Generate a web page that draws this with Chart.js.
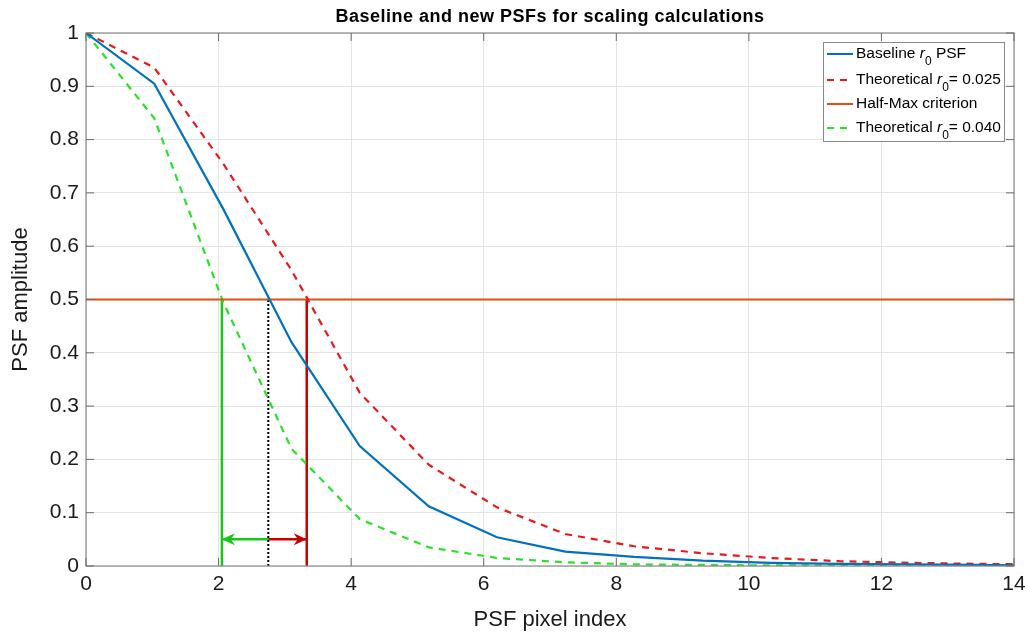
<!DOCTYPE html>
<html>
<head>
<meta charset="utf-8">
<script src="https://cdn.jsdelivr.net/npm/chart.js@4.4.1/dist/chart.umd.min.js"></script>
<style>
  html, body { margin: 0; padding: 0; background: #fff; }
  #wrap { position: relative; width: 1025px; height: 633px; }
</style>
</head>
<body>
<div id="wrap"><canvas id="psfChart"></canvas></div>
<script>
// --- data ---
const psfIndex     = [0, 1.03, 2.07, 3.10, 4.13, 5.17, 6.20, 7.23, 8.27, 9.30, 10.33, 11.37, 12.40, 13.43, 14.47];
const baselinePsf  = [1, 0.905, 0.670, 0.420, 0.225, 0.112, 0.054, 0.027, 0.017, 0.010, 0.006, 0.004, 0.003, 0.002, 0.001];
const theory025    = [1, 0.935, 0.755, 0.555, 0.325, 0.190, 0.110, 0.060, 0.037, 0.024, 0.015, 0.009, 0.006, 0.004, 0.003];
const theory040    = [1, 0.840, 0.495, 0.220, 0.088, 0.035, 0.015, 0.007, 0.003, 0.002, 0.001, 0.001, 0.001, 0.001, 0.001];
const halfMax      = 0.5;
const halfMaxRange = [0, 14];
// half-max crossings: r0=0.040, baseline, r0=0.025
const crossX040 = 2.05;
const crossBase = 2.75;
const crossX025 = 3.33;
const arrowLevel = 0.05;

const xTicks = [0, 2, 4, 6, 8, 10, 12, 14];
const yTicks = [0, 0.1, 0.2, 0.3, 0.4, 0.5, 0.6, 0.7, 0.8, 0.9, 1];

const titleText = 'Baseline and new PSFs for scaling calculations';
const legendRows = [
  [{t: 'Baseline '}, {t: 'r', it: true}, {t: '0', sub: true}, {t: ' PSF'}],
  [{t: 'Theoretical '}, {t: 'r', it: true}, {t: '0', sub: true}, {t: '= 0.025'}],
  [{t: 'Half-Max criterion'}],
  [{t: 'Theoretical '}, {t: 'r', it: true}, {t: '0', sub: true}, {t: '= 0.040'}]
];

const FONT = "'Liberation Sans', Arial, sans-serif";
const toPts = (xs, ys) => xs.map((x, i) => ({x: x, y: ys[i]}));

const datasets = [
  { label: 'baseline', data: toPts(psfIndex, baselinePsf), borderColor: '#0072BD', borderWidth: 2.2 },
  { label: 'r0 0.025', data: toPts(psfIndex, theory025), borderColor: '#e8191c', borderWidth: 2.2, borderDash: [7, 6] },
  { label: 'half max', data: halfMaxRange.map(x => ({x: x, y: halfMax})), borderColor: '#D95319', borderWidth: 2.2 },
  { label: 'r0 0.040', data: toPts(psfIndex, theory040), borderColor: '#2be02b', borderWidth: 2.2, borderDash: [7, 6] },
  { label: 'v040', data: [{x: crossX040, y: 0}, {x: crossX040, y: halfMax}], borderColor: '#16c916', borderWidth: 2.5 },
  { label: 'vbase', data: [{x: crossBase, y: 0}, {x: crossBase, y: halfMax}], borderColor: '#000', borderWidth: 2, borderDash: [2, 2] },
  { label: 'v025', data: [{x: crossX025, y: 0}, {x: crossX025, y: halfMax}], borderColor: '#c80000', borderWidth: 2.5 },
  { label: 'arrow040', data: [{x: crossBase, y: arrowLevel}, {x: crossX040, y: arrowLevel}], borderColor: '#16c916', borderWidth: 2.5, arrowEnd: true },
  { label: 'arrow025', data: [{x: crossBase, y: arrowLevel}, {x: crossX025, y: arrowLevel}], borderColor: '#c80000', borderWidth: 2.5, arrowEnd: true }
];
datasets.forEach(d => { d.pointRadius = 0; d.tension = 0; d.fill = false; });

// MATLAB-like frame, inward ticks, arrows, title and legend
const matlabDecor = {
  id: 'matlabDecor',
  afterDatasetsDraw(chart) {
    const ctx = chart.ctx, a = chart.chartArea;
    const xs = chart.scales.x, ys = chart.scales.y;
    ctx.save();
    // arrowheads
    chart.data.datasets.forEach(d => {
      if (!d.arrowEnd) return;
      const p0 = d.data[0], p1 = d.data[1];
      const x0 = xs.getPixelForValue(p0.x), x1 = xs.getPixelForValue(p1.x);
      const y1 = ys.getPixelForValue(p1.y);
      const dir = Math.sign(x1 - x0);
      ctx.fillStyle = d.borderColor;
      ctx.beginPath();
      ctx.moveTo(x1, y1);
      ctx.lineTo(x1 - dir * 13, y1 - 6);
      ctx.lineTo(x1 - dir * 9, y1);
      ctx.lineTo(x1 - dir * 13, y1 + 6);
      ctx.closePath();
      ctx.fill();
    });
    // frame
    ctx.strokeStyle = '#8a8a8a';
    ctx.lineWidth = 1.2;
    ctx.strokeRect(a.left, a.top, a.right - a.left, a.bottom - a.top);
    // inward ticks
    ctx.strokeStyle = '#6a6a6a';
    ctx.lineWidth = 1;
    ctx.beginPath();
    xTicks.forEach(v => {
      const px = xs.getPixelForValue(v);
      ctx.moveTo(px, a.bottom); ctx.lineTo(px, a.bottom - 8);
      ctx.moveTo(px, a.top); ctx.lineTo(px, a.top + 8);
    });
    yTicks.forEach(v => {
      const py = ys.getPixelForValue(v);
      ctx.moveTo(a.left, py); ctx.lineTo(a.left + 8, py);
      ctx.moveTo(a.right, py); ctx.lineTo(a.right - 8, py);
    });
    ctx.stroke();

    // title
    ctx.fillStyle = '#000';
    ctx.font = 'bold 18px ' + FONT;
    ctx.letterSpacing = '0.5px';
    ctx.textAlign = 'center';
    ctx.textBaseline = 'middle';
    ctx.fillText(titleText, (a.left + a.right) / 2, 17);
    ctx.letterSpacing = '0px';

    // legend
    const lx = 823, ly = 42, lw = 181, lh = 99;
    ctx.fillStyle = '#fff';
    ctx.fillRect(lx, ly, lw, lh);
    ctx.strokeStyle = '#8a8a8a';
    ctx.lineWidth = 1;
    ctx.strokeRect(lx + 0.5, ly + 0.5, lw, lh);
    const rowY = [54, 80, 104, 128];
    legendRows.forEach((row, i) => {
      const d = chart.data.datasets[i];
      const y = rowY[i];
      ctx.strokeStyle = d.borderColor;
      ctx.lineWidth = 2;
      ctx.setLineDash(d.borderDash || []);
      ctx.beginPath();
      ctx.moveTo(827, y); ctx.lineTo(853, y);
      ctx.stroke();
      ctx.setLineDash([]);
      let x = 856;
      ctx.textAlign = 'left';
      ctx.textBaseline = 'middle';
      ctx.fillStyle = '#000';
      row.forEach(seg => {
        if (seg.sub) {
          ctx.font = '12px ' + FONT;
          ctx.fillText(seg.t, x, y + 8);
        } else {
          ctx.font = (seg.it ? 'italic ' : '') + '15.5px ' + FONT;
          ctx.fillText(seg.t, x, y);
        }
        x += ctx.measureText(seg.t).width;
      });
    });
    ctx.restore();
  }
};

new Chart(document.getElementById('psfChart'), {
  type: 'line',
  data: { datasets: datasets },
  options: {
    responsive: true,
    maintainAspectRatio: false,
    animation: false,
    layout: { padding: { top: 33, right: 11, left: 0, bottom: 0 } },
    plugins: { legend: { display: false }, tooltip: { enabled: false }, title: { display: false } },
    scales: {
      x: {
        type: 'linear', min: 0, max: 14,
        afterBuildTicks: s => { s.ticks = xTicks.map(v => ({value: v})); },
        afterFit: s => { s.height = 67; s.paddingLeft = 0; s.paddingRight = 0; },
        grid: { color: '#e4e4e4', drawTicks: false },
        border: { display: false },
        ticks: { color: '#1a1a1a', font: { family: FONT, size: 21 }, padding: 6, maxRotation: 0 },
        title: { display: true, text: 'PSF pixel index', color: '#1a1a1a', font: { family: FONT, size: 22 }, padding: { top: 0, bottom: 0 } }
      },
      y: {
        type: 'linear', min: 0, max: 1,
        afterBuildTicks: s => { s.ticks = yTicks.map(v => ({value: v})); },
        afterFit: s => { s.width = 86; s.paddingTop = 0; s.paddingBottom = 0; },
        grid: { color: '#e4e4e4', drawTicks: false },
        border: { display: false },
        ticks: { color: '#1a1a1a', font: { family: FONT, size: 21 }, padding: 7,
                 callback: v => String(Math.round(v * 10) / 10) },
        title: { display: true, text: 'PSF amplitude', color: '#1a1a1a', font: { family: FONT, size: 22 }, padding: { top: 8, bottom: 0 } }
      }
    }
  },
  plugins: [matlabDecor]
});
</script>
</body>
</html>
